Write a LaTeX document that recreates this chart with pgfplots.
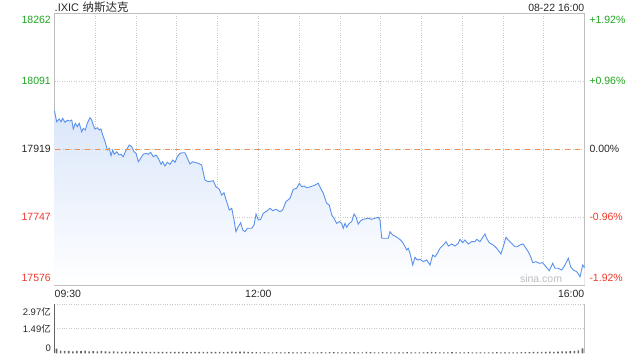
\documentclass[border=0pt]{standalone}
\usepackage{pgfplots}
\usepackage{pgfplotstable}
\pgfplotsset{compat=1.18}
\usepackage{fontspec}
\setmainfont{Liberation Sans}
\newfontfamily\cjk{Noto Sans CJK SC}
\definecolor{upgreen}{RGB}{30,165,30}
\definecolor{downred}{RGB}{240,55,40}
\definecolor{txtdark}{RGB}{40,40,40}
\definecolor{gridgray}{RGB}{200,200,200}
\definecolor{framegray}{RGB}{190,190,190}
\definecolor{lineblue}{RGB}{90,145,235}
\definecolor{filltop}{RGB}{218,230,250}
\definecolor{zeroorange}{RGB}{250,140,70}
\definecolor{volgray}{RGB}{100,100,100}

\pgfplotstableread{
m v
0 18015.9
1.6 17988.8
3.5 17995.6
4.8 17988.8
6.0 17997.4
7.7 17987.3
9.4 17992.4
11.4 17990.6
12.7 17993.1
13.8 17970.3
15.3 17984.8
16.8 17976.2
18.2 17984.8
20.0 17963.5
21.2 17972.1
22.7 17967.8
24.1 17984.8
26.1 17998.9
27.4 17993.1
28.5 17980.5
29.8 17970.3
31.5 17973.6
33.0 17967.8
34.2 17970.3
35.5 17955.2
37.2 17938.2
38.9 17917.2
40.3 17921.5
41.6 17902.8
42.8 17917.2
44.0 17906.4
45.8 17912.9
47.5 17904.6
48.9 17906.4
50.6 17900.3
52.1 17912.9
53.6 17921.5
55.0 17929.9
56.8 17925.6
58.5 17912.9
60.0 17908.9
61.7 17887.6
63.4 17896.2
65.3 17906.4
67.3 17908.9
69.0 17906.4
70.8 17911.4
72.7 17900.3
74.7 17904.6
76.4 17896.2
78.4 17881.1
79.6 17887.6
81.3 17876.8
83.0 17886.1
85.0 17881.1
87.0 17891.9
88.7 17886.1
90.4 17900.3
92.3 17908.9
94.3 17910.4
96.0 17910.4
99.7 17881.8
101.7 17887.6
105.8 17883.6
108.3 17879.3
110.7 17841.3
113.2 17837.0
116.8 17839.6
118.8 17824.4
121.3 17817.8
123.0 17803.4
124.7 17809.2
126.7 17786.5
128.6 17765.5
130.4 17769.8
132.1 17740.2
133.5 17710.6
135.2 17723.2
137.0 17733.3
138.5 17714.9
140.2 17710.6
141.9 17719.2
145.1 17719.2
146.8 17727.5
148.3 17755.3
150.0 17740.2
151.7 17741.9
153.6 17757.1
156.6 17763.7
158.6 17769.8
160.6 17763.7
163.0 17767.2
165.9 17761.2
167.9 17765.5
170.3 17786.5
173.3 17795.1
175.7 17817.8
178.2 17820.4
180.1 17833.0
181.9 17824.4
183.6 17826.2
185.6 17821.9
188.5 17824.4
191.7 17828.7
194.1 17833.0
195.9 17820.4
197.8 17807.7
200.3 17782.4
202.2 17778.1
204.0 17752.8
205.7 17744.5
207.6 17731.8
209.6 17735.9
211.3 17731.8
212.5 17719.2
213.8 17731.8
215.0 17721.7
216.9 17731.8
218.7 17735.9
220.4 17755.3
221.8 17748.5
223.5 17730.0
225.3 17738.4
227.2 17741.9
230.9 17744.5
233.4 17741.9
235.8 17744.5
238.3 17747.0
239.5 17740.2
240.8 17693.9
243.2 17693.9
245.6 17693.9
246.9 17710.6
248.8 17702.2
250.5 17699.7
253.0 17693.9
254.7 17689.6
256.6 17681.2
259.2 17664.3
260.3 17668.6
261.6 17655.9
263.6 17626.3
265.3 17645.8
266.9 17639.0
268.9 17640.8
271.4 17634.7
273.9 17639.0
276.3 17626.3
278.3 17651.6
280.0 17647.3
281.7 17655.9
283.7 17668.6
286.1 17676.9
288.1 17685.3
289.8 17674.4
292.3 17679.5
294.7 17674.4
297.1 17681.2
298.4 17691.3
300.4 17682.7
302.0 17689.6
304.5 17679.5
307.0 17685.3
309.4 17685.3
310.7 17691.3
313.1 17685.3
315.1 17696.4
316.8 17704.8
318.0 17693.9
319.9 17682.7
322.9 17676.9
325.4 17668.6
327.3 17660.0
328.5 17654.2
330.2 17672.6
332.2 17696.4
333.9 17689.6
336.4 17681.2
338.8 17672.6
340.5 17672.6
342.5 17676.9
344.9 17679.5
346.9 17668.6
348.6 17660.0
350.4 17647.3
351.9 17632.2
354.3 17634.7
356.7 17630.6
359.2 17632.2
361.6 17622.0
364.1 17611.9
366.6 17630.6
368.3 17618.0
370.7 17618.0
373.2 17613.7
375.6 17626.3
378.1 17643.3
379.8 17622.0
381.8 17613.7
384.3 17609.4
386.7 17596.7
388.7 17626.3
390.0 17619.4
}\pricetable

\pgfplotstableread{
m vol
1.5 0.28
4.5 0.16
7.5 0.14
10.5 0.15
13.5 0.12
16.5 0.14
19.5 0.13
22.5 0.16
25.5 0.12
28.5 0.13
31.5 0.11
34.5 0.14
37.5 0.12
40.5 0.10
43.5 0.12
46.5 0.10
49.5 0.09
52.5 0.10
55.5 0.10
58.5 0.09
61.5 0.09
64.5 0.10
67.5 0.09
70.5 0.08
73.5 0.09
76.5 0.08
79.5 0.09
82.5 0.08
85.5 0.08
88.5 0.09
91.5 0.08
94.5 0.08
97.5 0.07
100.5 0.08
103.5 0.08
106.5 0.09
109.5 0.08
112.5 0.09
115.5 0.08
118.5 0.09
121.5 0.08
124.5 0.07
127.5 0.08
130.5 0.10
133.5 0.09
136.5 0.10
139.5 0.10
142.5 0.09
145.5 0.07
148.5 0.07
151.5 0.06
154.5 0.07
157.5 0.06
160.5 0.06
163.5 0.07
166.5 0.06
169.5 0.06
172.5 0.07
175.5 0.06
178.5 0.06
181.5 0.06
184.5 0.07
187.5 0.06
190.5 0.06
193.5 0.06
196.5 0.07
199.5 0.06
202.5 0.07
205.5 0.07
208.5 0.06
211.5 0.06
214.5 0.06
217.5 0.06
220.5 0.07
223.5 0.06
226.5 0.06
229.5 0.08
232.5 0.07
235.5 0.06
238.5 0.06
241.5 0.07
244.5 0.06
247.5 0.06
250.5 0.06
253.5 0.06
256.5 0.06
259.5 0.07
262.5 0.06
265.5 0.06
268.5 0.06
271.5 0.06
274.5 0.07
277.5 0.08
280.5 0.07
283.5 0.06
286.5 0.06
289.5 0.06
292.5 0.07
295.5 0.06
298.5 0.06
301.5 0.06
304.5 0.07
307.5 0.06
310.5 0.06
313.5 0.06
316.5 0.06
319.5 0.06
322.5 0.06
325.5 0.07
328.5 0.06
331.5 0.06
334.5 0.06
337.5 0.06
340.5 0.06
343.5 0.07
346.5 0.07
349.5 0.07
352.5 0.08
355.5 0.08
358.5 0.09
361.5 0.09
364.5 0.10
367.5 0.09
370.5 0.10
373.5 0.11
376.5 0.12
379.5 0.13
382.5 0.15
385.5 0.18
388.5 0.30
}\voltable

\begin{document}
\begin{tikzpicture}
\path (0pt,0pt) rectangle (640pt,360pt);
% header (outside the axes)
\node[anchor=base west, inner sep=0pt, text=txtdark, font=\fontsize{11}{13}\selectfont] (ttl) at (54.5pt,348.6pt) {.IXIC};
\node[anchor=base west, inner sep=0pt, text=txtdark, font=\cjk\fontsize{11.5}{13}\selectfont] at ([xshift=3pt]ttl.base east) {纳斯达克};
\node[anchor=base east, inner sep=0pt, text=txtdark, font=\fontsize{10.5}{12}\selectfont] at (584.5pt,348.5pt) {08-22 16:00};
% main price axis
\begin{axis}[
  at={(54.5pt,75.1pt)}, anchor=south west,
  scale only axis, width=530pt, height=271.2pt,
  xmin=0, xmax=390, ymin=17576, ymax=18262,
  scaled ticks=false,
  axis line style={draw=framegray, line width=0.8pt},
  xtick={30,60,...,360}, ytick={17747,18091},
  xticklabels={}, yticklabels={},
  major tick length=0pt,
  grid=major,
  major grid style={gridgray, dotted, line width=0.7pt},
  clip=false,
  font=\fontsize{10.5}{12}\selectfont,
]
\addplot[draw=none, top color=filltop, bottom color=white] table[x=m, y=v] {\pricetable} \closedcycle;
\addplot[gridgray, dotted, line width=0.7pt] coordinates {(0,17919) (390,17919)};
\addplot[lineblue, line width=0.9pt] table[x=m, y=v] {\pricetable};
\addplot[zeroorange, line width=1.3pt, dash pattern=on 5pt off 5pt] coordinates {(0,17919) (390,17919)};
% left labels
\node[anchor=east, inner sep=0pt, text=upgreen] at (axis cs:0,18262) [xshift=-3.5pt, yshift=-6.6pt] {18262};
\node[anchor=east, inner sep=0pt, text=upgreen] at (axis cs:0,18091) [xshift=-3.5pt] {18091};
\node[anchor=east, inner sep=0pt, text=txtdark] at (axis cs:0,17919) [xshift=-3.5pt] {17919};
\node[anchor=east, inner sep=0pt, text=downred] at (axis cs:0,17747) [xshift=-3.5pt] {17747};
\node[anchor=east, inner sep=0pt, text=downred] at (axis cs:0,17576) [xshift=-3.5pt, yshift=7pt] {17576};
% right labels
\node[anchor=west, inner sep=0pt, text=upgreen] at (axis cs:390,18262) [xshift=4.8pt, yshift=-6.6pt] {+1.92\%};
\node[anchor=west, inner sep=0pt, text=upgreen] at (axis cs:390,18091) [xshift=4.8pt] {+0.96\%};
\node[anchor=west, inner sep=0pt, text=txtdark] at (axis cs:390,17919) [xshift=4.8pt] {0.00\%};
\node[anchor=west, inner sep=0pt, text=downred] at (axis cs:390,17747) [xshift=4.8pt] {-0.96\%};
\node[anchor=west, inner sep=0pt, text=downred] at (axis cs:390,17576) [xshift=4.8pt, yshift=7pt] {-1.92\%};
% x labels
\node[anchor=west, inner sep=0pt, text=txtdark] at (axis cs:0,17576) [yshift=-8.6pt] {09:30};
\node[anchor=center, inner sep=0pt, text=txtdark] at (axis cs:150,17576) [yshift=-8.6pt] {12:00};
\node[anchor=east, inner sep=0pt, text=txtdark] at (axis cs:390,17576) [yshift=-8.6pt] {16:00};
% watermark
\node[anchor=center, inner sep=0pt, text=black!25] at (axis cs:358,17576) [yshift=5.8pt] {sina.com};
\end{axis}
% volume axis
\begin{axis}[
  at={(54.5pt,6.7pt)}, anchor=south west,
  scale only axis, width=530pt, height=49pt,
  xmin=0, xmax=390, ymin=0, ymax=2.97,
  scaled ticks=false,
  axis line style={draw=none},
  xtick=\empty, ytick={1.49,2.97}, yticklabels={},
  major tick length=0pt,
  ymajorgrids,
  major grid style={gridgray, dotted, line width=0.7pt},
  clip=false,
  font=\fontsize{9.5}{11}\selectfont,
]
\addplot[ybar, bar width=1.6pt, fill=volgray, draw=none] table[x=m, y=vol] {\voltable};
\draw[volgray, line width=0.8pt] (rel axis cs:0,0) -- (rel axis cs:0,1);
\draw[framegray, line width=0.8pt] (rel axis cs:1,0) -- (rel axis cs:1,1);
\node[anchor=east, inner sep=0pt, text=txtdark] at (axis cs:0,2.97) [xshift=-3.5pt, yshift=-7.7pt] {2.97{\cjk 亿}};
\node[anchor=east, inner sep=0pt, text=txtdark] at (axis cs:0,1.49) [xshift=-3.5pt] {1.49{\cjk 亿}};
\node[anchor=east, inner sep=0pt, text=txtdark] at (axis cs:0,0) [xshift=-3.5pt, yshift=5pt] {0};
\end{axis}
\end{tikzpicture}
\end{document}
